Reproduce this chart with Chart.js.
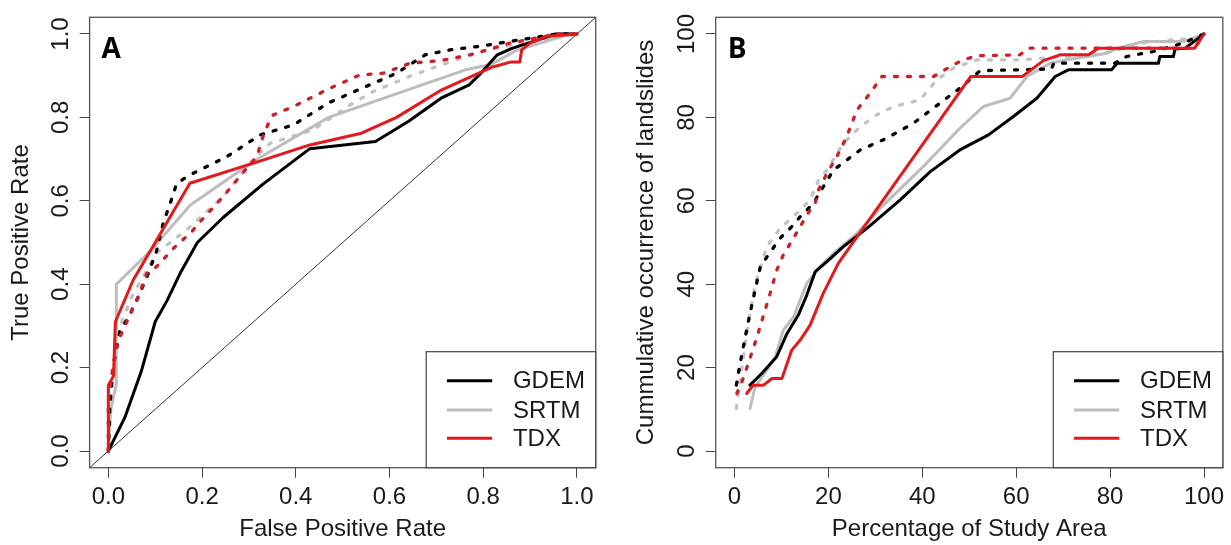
<!DOCTYPE html>
<html><head><meta charset="utf-8">
<script src="https://cdn.jsdelivr.net/npm/chart.js@4.4.1/dist/chart.umd.min.js"></script>
<style>
html,body{margin:0;padding:0;background:#fff;}
#wrap{position:relative;width:1231px;height:545px;overflow:hidden;background:#fff;}
canvas{position:absolute;top:0;}
#cA{left:0;} #cB{left:615px;}
</style></head><body>
<div id="wrap"><canvas id="cA" width="615" height="545"></canvas><canvas id="cB" width="616" height="545"></canvas></div>
<script>
// ---------- DATA ----------
const seriesNames = ['GDEM', 'SRTM', 'TDX'];

// Panel A: ROC curves  [false positive rate, true positive rate]
const rocGdem = [[0,0],[0.035,0.08],[0.07,0.19],[0.10,0.31],[0.125,0.36],[0.155,0.43],[0.19,0.50],[0.245,0.56],[0.33,0.64],[0.43,0.725],[0.57,0.742],[0.64,0.79],[0.71,0.846],[0.77,0.878],[0.79,0.90],[0.83,0.95],[0.86,0.965],[0.955,1.0],[1,1]];
const rocSrtm = [[0,0],[0.005,0.10],[0.017,0.16],[0.017,0.40],[0.09,0.48],[0.175,0.59],[0.31,0.695],[0.47,0.80],[0.765,0.915],[0.815,0.926],[0.87,0.96],[0.97,0.995],[1,1]];
const rocTdx = [[0,0],[0,0.158],[0.011,0.18],[0.015,0.31],[0.053,0.41],[0.093,0.486],[0.128,0.554],[0.174,0.642],[0.32,0.694],[0.43,0.734],[0.54,0.762],[0.615,0.80],[0.708,0.864],[0.82,0.921],[0.86,0.933],[0.878,0.933],[0.882,0.962],[0.90,0.978],[0.935,0.994],[1,1]];
const rocGdemDot = [[0,0],[0.003,0.10],[0.008,0.18],[0.013,0.22],[0.025,0.29],[0.043,0.32],[0.064,0.37],[0.085,0.425],[0.103,0.48],[0.117,0.546],[0.132,0.594],[0.146,0.642],[0.174,0.662],[0.253,0.706],[0.324,0.758],[0.395,0.782],[0.47,0.835],[0.558,0.878],[0.615,0.906],[0.676,0.95],[0.729,0.962],[0.789,0.97],[0.857,0.982],[0.957,1.0],[1,1]];
const rocSrtmDot = [[0,0],[0.005,0.10],[0.012,0.2],[0.025,0.3],[0.05,0.37],[0.08,0.43],[0.103,0.475],[0.167,0.53],[0.245,0.61],[0.31,0.70],[0.345,0.738],[0.437,0.77],[0.516,0.83],[0.565,0.862],[0.651,0.902],[0.772,0.95],[0.843,0.97],[0.971,0.994],[1,1]];
const rocTdxDot = [[0,0],[0,0.12],[0.007,0.178],[0.011,0.21],[0.021,0.266],[0.032,0.29],[0.053,0.345],[0.064,0.37],[0.082,0.426],[0.103,0.442],[0.139,0.486],[0.178,0.526],[0.196,0.55],[0.245,0.61],[0.295,0.678],[0.317,0.706],[0.331,0.758],[0.345,0.794],[0.352,0.806],[0.395,0.826],[0.473,0.87],[0.537,0.902],[0.587,0.906],[0.644,0.93],[0.708,0.936],[0.772,0.95],[0.857,0.978],[0.957,1.0],[1,1]];
const rocDiagonal = [[-0.04,-0.04],[1.04,1.04]];

// Panel B: cumulative landslide occurrence [% study area, % landslides]
const curGdem = [[3.3,15.8],[5.8,18.6],[9,22.6],[11.2,28.2],[13.6,32.6],[15.4,37.4],[17.2,43],[19.7,45.4],[23.2,49],[28.2,53.4],[35.3,60.2],[41.7,67],[48,72.2],[54.1,75.8],[59.4,80.2],[64.4,84.6],[68.3,89.8],[71.1,91.4],[80.3,91.4],[81.5,93],[90.3,93],[90.6,94.6],[93.5,94.6],[93.8,96.4],[96,96.6],[100,100]];
const curSrtm = [[3.3,10.2],[4.4,15.4],[6.9,19.4],[8.7,22.6],[10.4,29],[12.6,32.2],[15.4,40.2],[18.2,44.2],[21.1,47.4],[26.1,52.2],[31,58.2],[40.2,68.2],[48,77.4],[53,82.6],[58.7,84.6],[62.3,89.8],[67.3,93],[70.8,93.8],[79.3,95.4],[81.6,96.6],[87.1,98.2],[95.6,98.2],[97.7,99],[100,100]];
const curTdx = [[2.6,13.8],[4,15.8],[6.2,15.8],[8,17.4],[10.1,17.4],[12.2,24.2],[14,26.6],[16.1,30.2],[18.9,37.8],[22.1,45],[50.3,89.8],[61.3,89.8],[65.8,93.6],[69.3,95],[75.4,95],[77.5,96.6],[98,96.6],[100,100]];
const curGdemDot = [[0.4,15.8],[1.2,21],[2.3,27.4],[3.3,33],[4.4,38.6],[5.5,44.2],[7.2,47],[9.7,51],[12.2,53.8],[14,56.2],[16.1,58.6],[17.2,60.2],[21.1,67.4],[26.8,72.2],[32.4,75],[38.1,78.6],[48,87],[52.3,91.2],[67.5,91.6],[68,93],[81,93],[83.5,94.6],[89.2,95.8],[95.6,97.8],[100,100]];
const curSrtmDot = [[0.4,10.2],[1.2,17],[1.9,22.6],[3.0,31],[4.4,39.8],[6.9,49],[9.7,53.4],[12.9,56.6],[16.1,60.2],[17.9,65],[19.7,67.4],[23.2,73.8],[26.1,77],[29.6,80.2],[33.9,82.6],[39.5,84.2],[43.1,89],[46.6,91.8],[51.6,93.8],[60.8,93.8],[70.8,94.6],[79,95.4],[86.4,97.8],[93.5,98.6],[98.4,99],[100,100]];
const curTdxDot = [[0.5,13.8],[1.6,16.6],[3.3,22.2],[4.8,27.4],[6.2,32.6],[7.6,37.8],[9,43.4],[10.4,47],[11.9,49.8],[14,53.8],[15.4,56.6],[17.2,59.4],[17.9,62.6],[19.7,66.6],[21.8,70.6],[23.9,75.4],[26.1,81.8],[28.9,85.8],[31.4,89.8],[42.4,89.8],[46.6,92.6],[48.8,93.8],[51.6,94.8],[60.8,95],[62.5,96.6],[98,96.6],[100,100]];

// Tick values and labels
const ticksA = [0, 0.2, 0.4, 0.6, 0.8, 1.0];
const tickLabelsA = ['0.0', '0.2', '0.4', '0.6', '0.8', '1.0'];
const ticksB = [0, 20, 40, 60, 80, 100];
const tickLabelsB = ['0', '20', '40', '60', '80', '100'];

// ---------- STYLE ----------
const FONT = '"Liberation Sans", Arial, Helvetica, sans-serif';
const TXT = '#1a1a1a';
const solidColor = { GDEM: '#000000', SRTM: '#bdbdbd', TDX: '#e3191c' };
const dotColor = { GDEM: '#000000', SRTM: '#c2c2c2', TDX: '#cc2027' };
Chart.defaults.font.family = FONT;
Chart.defaults.font.size = 24;
Chart.defaults.color = TXT;

const toXY = arr => arr.map(p => ({ x: p[0], y: p[1] }));

function lineDs(label, arr, color, dotted) {
  return {
    label, data: toXY(arr), borderColor: color, backgroundColor: color,
    borderWidth: dotted ? 3.3 : 3, borderDash: dotted ? [3, 10] : [],
    borderCapStyle: 'round', borderJoinStyle: 'round',
    pointRadius: 0, tension: 0, fill: false, isLegend: !dotted
  };
}

const rPlugin = {
  id: 'rPanel',
  afterDraw(chart, args, o) {
    const ctx = chart.ctx, a = chart.chartArea, ys = chart.scales.y;
    ctx.save();
    // plot box
    ctx.strokeStyle = '#555'; ctx.lineWidth = 1.3;
    ctx.strokeRect(a.left, a.top, a.right - a.left, a.bottom - a.top);
    // rotated y tick labels (R style, parallel to axis)
    ctx.fillStyle = TXT; ctx.font = '24px ' + FONT;
    ctx.textAlign = 'center'; ctx.textBaseline = 'alphabetic';
    o.yTicks.forEach((v, i) => {
      const py = ys.getPixelForValue(v);
      ctx.save(); ctx.translate(a.left - 21.3, py); ctx.rotate(-Math.PI / 2);
      ctx.fillText(o.yLabels[i], 0, 0); ctx.restore();
    });
    // panel letter
    ctx.fillStyle = '#000'; ctx.font = 'bold 28px "Open Sans", ' + FONT;
    ctx.textAlign = 'left';
    ctx.fillText(o.letter, a.left + 12, 58);
    // legend
    const lw = 169.5, lt = 351.7, ll = a.right - lw;
    ctx.fillStyle = '#fff'; ctx.fillRect(ll, lt, lw, a.bottom - lt);
    ctx.strokeStyle = '#444'; ctx.lineWidth = 1.2;
    ctx.strokeRect(ll, lt, lw, a.bottom - lt);
    const items = chart.data.datasets.filter(d => d.isLegend);
    const order = seriesNames.map(n => items.find(d => d.label === n));
    const rowY = [380.7, 410, 438.3];
    order.forEach((d, i) => {
      ctx.strokeStyle = d.borderColor; ctx.lineWidth = 3; ctx.lineCap = 'butt';
      ctx.beginPath(); ctx.moveTo(ll + 20.7, rowY[i]); ctx.lineTo(ll + 66, rowY[i]); ctx.stroke();
      ctx.fillStyle = TXT; ctx.font = '24px ' + FONT; ctx.textBaseline = 'middle';
      ctx.fillText(d.label, ll + 86.7, rowY[i] + 1);
    });
    ctx.restore();
  }
};

function makeChart(id, cfg) {
  const ticksX = cfg.ticks, labs = cfg.labels;
  return new Chart(document.getElementById(id), {
    type: 'line',
    data: { datasets: cfg.datasets },
    plugins: [rPlugin],
    options: {
      responsive: false, animation: false, devicePixelRatio: 1,
      layout: { padding: { left: 0, top: 17.3, right: cfg.padRight, bottom: 0 } },
      plugins: { legend: { display: false }, tooltip: { enabled: false },
        rPanel: { letter: cfg.letter, yTicks: ticksX, yLabels: labs } },
      scales: {
        x: {
          type: 'linear', min: cfg.min, max: cfg.max,
          afterBuildTicks: s => { s.ticks = ticksX.map(v => ({ value: v })); },
          afterFit: s => { s.height = 77.3; },
          ticks: { autoSkip: false, maxRotation: 0, minRotation: 0, padding: 5, color: TXT,
                   font: { size: 24 }, callback: (v, i) => labs[i] },
          grid: { drawOnChartArea: false, drawTicks: true, tickLength: 10, color: '#444', lineWidth: 1 },
          border: { display: false },
          title: { display: true, text: cfg.xTitle, color: TXT, font: { size: 24 }, padding: { top: 0, bottom: 1 } }
        },
        y: {
          type: 'linear', min: cfg.min, max: cfg.max,
          afterBuildTicks: s => { s.ticks = ticksX.map(v => ({ value: v })); },
          afterFit: s => { s.width = cfg.yWidth; },
          ticks: { display: false },
          grid: { drawOnChartArea: false, drawTicks: true, tickLength: 10, color: '#444', lineWidth: 1 },
          border: { display: false },
          title: { display: true, text: cfg.yTitle, color: TXT, font: { size: 24 }, padding: { top: cfg.yTitlePad, bottom: 0 } }
        }
      }
    }
  });
}

makeChart('cA', {
  letter: 'A', min: -0.04, max: 1.04, ticks: ticksA, labels: tickLabelsA,
  padRight: 19.3, yWidth: 89.6, yTitlePad: 7,
  xTitle: 'False Positive Rate', yTitle: 'True Positive Rate',
  datasets: [
    lineDs('TDX', rocTdx, solidColor.TDX, false),
    lineDs('TDX dotted', rocTdxDot, dotColor.TDX, true),
    lineDs('GDEM', rocGdem, solidColor.GDEM, false),
    lineDs('GDEM dotted', rocGdemDot, dotColor.GDEM, true),
    lineDs('SRTM', rocSrtm, solidColor.SRTM, false),
    lineDs('SRTM dotted', rocSrtmDot, dotColor.SRTM, true),
    { label: 'diagonal', data: toXY(rocDiagonal), borderColor: '#333', borderWidth: 1, pointRadius: 0, tension: 0, isLegend: false }
  ]
});

makeChart('cB', {
  letter: 'B', min: -4, max: 104, ticks: ticksB, labels: tickLabelsB,
  padRight: 8.2, yWidth: 100.7, yTitlePad: 16.6,
  xTitle: 'Percentage of Study Area', yTitle: 'Cummulative occurrence of landslides',
  datasets: [
    lineDs('TDX', curTdx, solidColor.TDX, false),
    lineDs('TDX dotted', curTdxDot, dotColor.TDX, true),
    lineDs('GDEM', curGdem, solidColor.GDEM, false),
    lineDs('GDEM dotted', curGdemDot, dotColor.GDEM, true),
    lineDs('SRTM', curSrtm, solidColor.SRTM, false),
    lineDs('SRTM dotted', curSrtmDot, dotColor.SRTM, true)
  ]
});
</script>
</body></html>
